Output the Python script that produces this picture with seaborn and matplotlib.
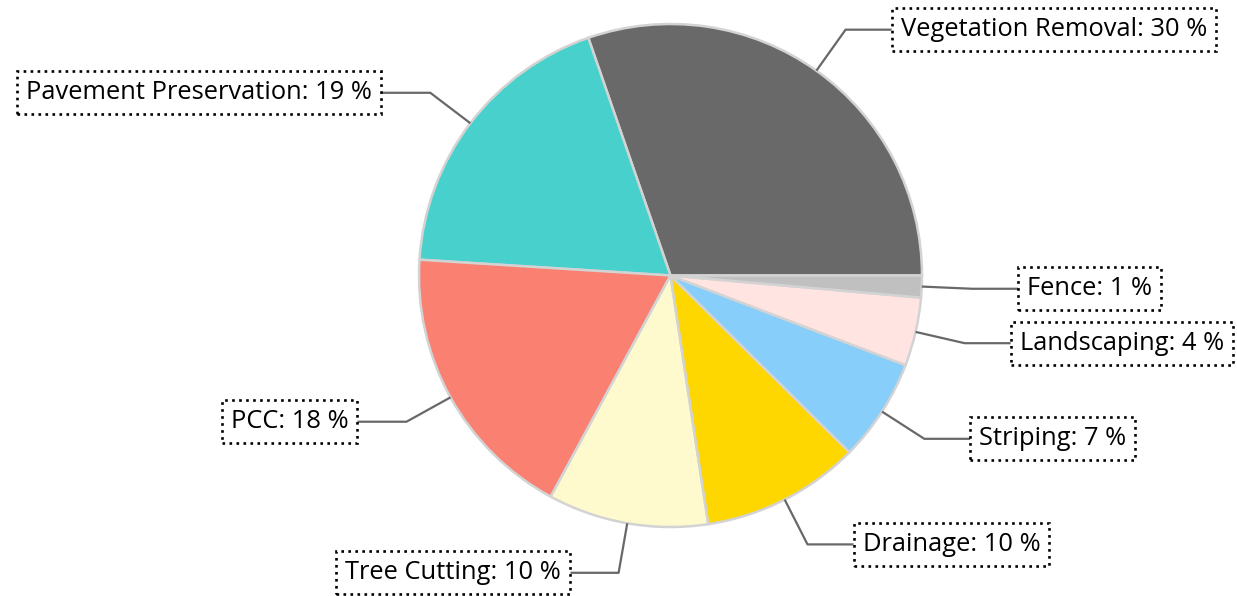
import numpy as np
import seaborn as sns
import matplotlib.pyplot as plt

sns.set_theme(style="white")
plt.rcParams["font.family"] = ["Open Sans", "DejaVu Sans"]

# data (percent of total)
categories = ["Vegetation Removal", "Pavement Preservation", "PCC", "Tree Cutting",
              "Drainage", "Striping", "Landscaping", "Fence"]
shares = [30.3, 18.7, 18.1, 10.3, 10.2, 6.6, 4.4, 1.4]
colors = ["#696969", "#48D1CC", "#FA8072", "#FFFACD",
          "#FFD700", "#87CEFA", "#FFE4E1", "#C0C0C0"]

W, H = 1237, 596
R_PX = 251.5
CX, CY = 670.5, 275.5
FS = 18.4

fig = plt.figure(figsize=(W / 100, H / 100), dpi=100)
ax = fig.add_axes([0, 0, 1, 1])

wedges, _ = ax.pie(shares, colors=colors, startangle=0, counterclock=True,
                   radius=1, wedgeprops=dict(edgecolor="#D3D3D3", linewidth=1.8))

ax.set_xlim(-CX / R_PX, (W - CX) / R_PX)
ax.set_ylim(-(H - CY) / R_PX, CY / R_PX)
ax.set_aspect("auto")
ax.axis("off")

for w, name, val in zip(wedges, categories, shares):
    ang = np.deg2rad((w.theta1 + w.theta2) / 2)
    x0, y0 = np.cos(ang), np.sin(ang)
    ex, ey = 1.2 * x0, 1.2 * y0
    side = 1 if x0 >= 0 else -1
    line_len = 46 if side > 0 else 52
    text_off = 55 if side > 0 else 58
    bx = ex + side * line_len / R_PX
    ax.plot([x0, ex, bx], [y0, ey, ey], color="#686868", lw=1.6,
            solid_capstyle="butt", zorder=1)
    tx = ex + side * text_off / R_PX
    ax.text(tx, ey, f"{name}: {round(val)} %", fontsize=FS, color="black",
            ha="left" if side > 0 else "right", va="center",
            bbox=dict(boxstyle="square,pad=0.35", fc="white", ec="black",
                      ls=":", lw=1.9))

fig.savefig("out.png", dpi=100)
